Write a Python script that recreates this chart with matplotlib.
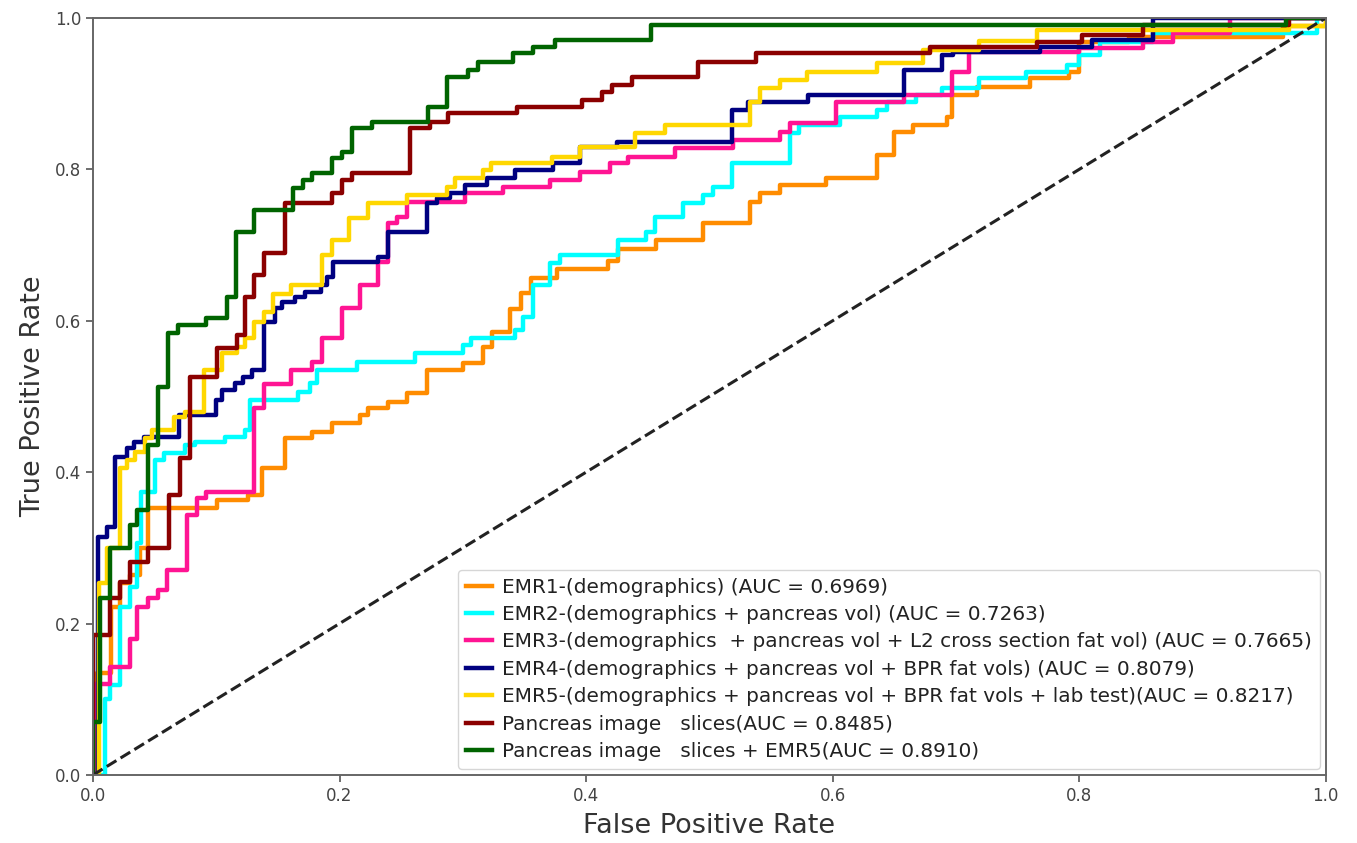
import matplotlib
matplotlib.use("Agg")
import matplotlib.pyplot as plt

# ROC step points: at fpr[i] the tpr jumps to tpr[i]
emr1_fpr = [0, 0.003, 0.015, 0.022, 0.030, 0.038, 0.045, 0.101, 0.126, 0.137, 0.156, 0.178, 0.194, 0.217,
            0.223, 0.239, 0.255, 0.271, 0.300, 0.316, 0.324, 0.338, 0.347, 0.355, 0.376, 0.418, 0.426, 0.457,
            0.495, 0.533, 0.541, 0.557, 0.595, 0.636, 0.650, 0.665, 0.693, 0.697, 0.717, 0.760, 0.792, 0.800,
            0.840, 0.965, 1.0]
emr1_tpr = [0, 0.135, 0.222, 0.254, 0.264, 0.300, 0.353, 0.363, 0.370, 0.405, 0.445, 0.453, 0.465, 0.476,
            0.485, 0.493, 0.505, 0.535, 0.544, 0.565, 0.585, 0.616, 0.637, 0.657, 0.668, 0.679, 0.695, 0.707,
            0.729, 0.757, 0.769, 0.779, 0.789, 0.819, 0.849, 0.858, 0.869, 0.898, 0.909, 0.921, 0.929, 0.968,
            0.975, 0.990, 1.0]

emr2_fpr = [0, 0.010, 0.014, 0.022, 0.030, 0.036, 0.039, 0.050, 0.058, 0.075, 0.083, 0.107, 0.123, 0.127,
            0.166, 0.176, 0.182, 0.214, 0.261, 0.300, 0.307, 0.342, 0.349, 0.357, 0.371, 0.379, 0.426, 0.449,
            0.456, 0.479, 0.495, 0.503, 0.518, 0.565, 0.573, 0.606, 0.636, 0.644, 0.668, 0.689, 0.719, 0.757,
            0.790, 0.800, 0.817, 0.860, 0.993, 1.0]
emr2_tpr = [0, 0.100, 0.119, 0.222, 0.248, 0.306, 0.374, 0.416, 0.425, 0.436, 0.440, 0.447, 0.456, 0.495,
            0.506, 0.518, 0.535, 0.546, 0.557, 0.568, 0.577, 0.588, 0.605, 0.647, 0.676, 0.687, 0.707, 0.717,
            0.737, 0.756, 0.766, 0.777, 0.808, 0.848, 0.858, 0.869, 0.878, 0.889, 0.898, 0.907, 0.921, 0.929,
            0.938, 0.951, 0.968, 0.980, 1.0, 1.0]

emr3_fpr = [0, 0.002, 0.014, 0.030, 0.036, 0.045, 0.053, 0.060, 0.076, 0.084, 0.092, 0.131, 0.139, 0.161,
            0.178, 0.186, 0.202, 0.217, 0.231, 0.239, 0.247, 0.255, 0.302, 0.333, 0.371, 0.395, 0.419, 0.434,
            0.472, 0.519, 0.557, 0.565, 0.603, 0.658, 0.697, 0.711, 0.800, 0.852, 0.876, 0.922, 1.0]
emr3_tpr = [0, 0.120, 0.143, 0.180, 0.222, 0.234, 0.244, 0.271, 0.343, 0.366, 0.374, 0.485, 0.516, 0.535,
            0.546, 0.577, 0.617, 0.647, 0.678, 0.729, 0.737, 0.757, 0.769, 0.777, 0.786, 0.797, 0.808, 0.816,
            0.828, 0.839, 0.850, 0.861, 0.889, 0.898, 0.929, 0.955, 0.960, 0.968, 0.980, 1.0, 1.0]

emr4_fpr = [0, 0.004, 0.011, 0.018, 0.028, 0.033, 0.041, 0.070, 0.100, 0.105, 0.115, 0.122, 0.129, 0.139,
            0.148, 0.153, 0.164, 0.172, 0.185, 0.190, 0.195, 0.231, 0.239, 0.271, 0.279, 0.290, 0.302, 0.320,
            0.342, 0.373, 0.395, 0.425, 0.518, 0.531, 0.580, 0.658, 0.689, 0.698, 0.768, 0.810, 0.860, 1.0]
emr4_tpr = [0, 0.314, 0.328, 0.420, 0.432, 0.440, 0.447, 0.476, 0.495, 0.509, 0.518, 0.526, 0.535, 0.598,
            0.617, 0.625, 0.632, 0.638, 0.647, 0.658, 0.678, 0.684, 0.717, 0.756, 0.762, 0.769, 0.779, 0.789,
            0.799, 0.808, 0.830, 0.836, 0.878, 0.889, 0.898, 0.931, 0.951, 0.955, 0.962, 0.971, 1.0, 1.0]

emr5_fpr = [0, 0.005, 0.011, 0.022, 0.028, 0.034, 0.042, 0.048, 0.066, 0.075, 0.090, 0.105, 0.117, 0.123,
            0.131, 0.139, 0.146, 0.161, 0.186, 0.194, 0.208, 0.223, 0.255, 0.287, 0.294, 0.316, 0.323, 0.372,
            0.395, 0.440, 0.464, 0.533, 0.541, 0.557, 0.579, 0.636, 0.673, 0.719, 0.766, 0.970, 1.0]
emr5_tpr = [0, 0.254, 0.300, 0.405, 0.416, 0.427, 0.445, 0.456, 0.473, 0.480, 0.535, 0.557, 0.565, 0.577,
            0.598, 0.611, 0.636, 0.647, 0.687, 0.707, 0.736, 0.756, 0.766, 0.777, 0.789, 0.799, 0.808, 0.816,
            0.830, 0.848, 0.858, 0.889, 0.907, 0.918, 0.929, 0.940, 0.958, 0.970, 0.984, 0.990, 1.0]

img_fpr = [0, 0, 0.014, 0.022, 0.030, 0.045, 0.062, 0.071, 0.079, 0.101, 0.117, 0.123, 0.131, 0.139, 0.156,
           0.194, 0.202, 0.210, 0.257, 0.273, 0.288, 0.344, 0.397, 0.413, 0.421, 0.437, 0.491, 0.538, 0.679,
           0.766, 0.802, 0.852, 0.970, 1.0]
img_tpr = [0, 0.185, 0.234, 0.255, 0.281, 0.300, 0.370, 0.419, 0.526, 0.564, 0.581, 0.632, 0.660, 0.690,
           0.756, 0.769, 0.786, 0.795, 0.855, 0.863, 0.874, 0.882, 0.892, 0.902, 0.911, 0.922, 0.942, 0.954,
           0.962, 0.968, 0.978, 0.991, 1.0, 1.0]

imgemr_fpr = [0, 0, 0.006, 0.014, 0.030, 0.036, 0.045, 0.053, 0.061, 0.069, 0.092, 0.109, 0.116, 0.131, 0.162,
              0.170, 0.178, 0.194, 0.202, 0.210, 0.226, 0.272, 0.287, 0.304, 0.312, 0.341, 0.357, 0.375, 0.453,
              0.968, 1.0]
imgemr_tpr = [0, 0.070, 0.234, 0.300, 0.330, 0.350, 0.436, 0.513, 0.584, 0.594, 0.604, 0.632, 0.717, 0.746,
              0.775, 0.786, 0.795, 0.815, 0.823, 0.855, 0.863, 0.882, 0.922, 0.931, 0.942, 0.954, 0.962, 0.971,
              0.991, 1.0, 1.0]

curves = [
    (emr1_fpr, emr1_tpr, 'darkorange', 'EMR1-(demographics) (AUC = 0.6969)'),
    (emr2_fpr, emr2_tpr, 'aqua', 'EMR2-(demographics + pancreas vol) (AUC = 0.7263)'),
    (emr3_fpr, emr3_tpr, 'deeppink',
     'EMR3-(demographics  + pancreas vol + L2 cross section fat vol) (AUC = 0.7665)'),
    (emr4_fpr, emr4_tpr, 'navy', 'EMR4-(demographics + pancreas vol + BPR fat vols) (AUC = 0.8079)'),
    (emr5_fpr, emr5_tpr, 'gold', 'EMR5-(demographics + pancreas vol + BPR fat vols + lab test)(AUC = 0.8217)'),
    (img_fpr, img_tpr, 'darkred', 'Pancreas image   slices(AUC = 0.8485)'),
    (imgemr_fpr, imgemr_tpr, 'darkgreen', 'Pancreas image   slices + EMR5(AUC = 0.8910)'),
]

fig = plt.figure(figsize=(13.57, 8.43), dpi=100)
ax = fig.add_axes([0.0685, 0.0807, 0.9085, 0.898])

for fpr, tpr, color, label in curves:
    ax.plot(fpr, tpr, drawstyle='steps-post', color=color, lw=3.2, label=label)

ax.plot([0, 1], [0, 1], color='#222222', lw=2.2, linestyle='--')

ax.set_xlim(0.0, 1.0)
ax.set_ylim(0.0, 1.0)
ax.set_xticks([0.0, 0.2, 0.4, 0.6, 0.8, 1.0])
ax.set_yticks([0.0, 0.2, 0.4, 0.6, 0.8, 1.0])
ax.tick_params(labelsize=12, labelcolor='#444444', color='#555555', length=5, width=1.2)
for s in ax.spines.values():
    s.set_color('#666666')
    s.set_linewidth(1.4)
ax.set_xlabel('False Positive Rate', fontsize=19.5, color='#333333', labelpad=6)
ax.set_ylabel('True Positive Rate', fontsize=19.5, color='#333333', labelpad=6)

leg = ax.legend(loc='lower right', fontsize=14.4, handlelength=1.3, handletextpad=0.5,
                labelspacing=0.42, borderaxespad=0.3)
leg.get_frame().set_edgecolor('#cccccc')
for t in leg.get_texts():
    t.set_color('#222222')

fig.savefig('out.png', dpi=100)
